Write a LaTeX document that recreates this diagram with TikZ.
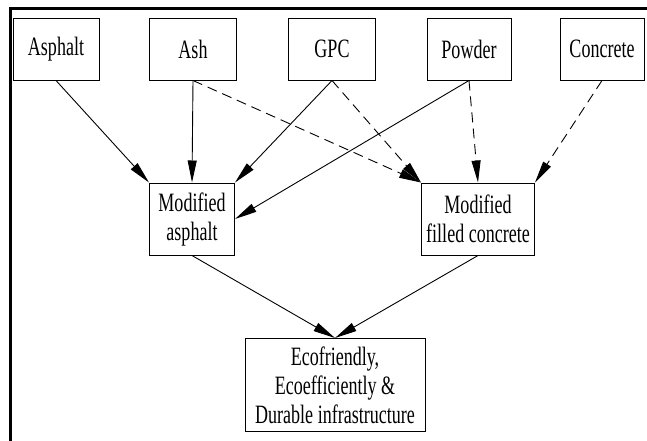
\documentclass[tikz,border=0pt]{standalone}
\usepackage{fontspec}
\setmainfont{Liberation Serif}[FakeStretch=0.68]
\usetikzlibrary{arrows.meta}

\tikzset{
    box/.style={draw, line width=1pt, align=center, inner sep=0pt,
        font=\fontsize{26.5}{29}\selectfont},
    flow/.style={line width=0.9pt, -{Triangle[length=22pt,width=9pt]}},
    dflow/.style={flow, dash pattern=on 10pt off 6pt},
}

\begin{document}
\begin{tikzpicture}[x=1pt,y=-1pt]
        \useasboundingbox (0,0) rectangle (647,440);

        % Рамка
        \draw[line width=3pt] (10,450) -- (10,8) -- (660,8);

        % Узлы
        \node[box, minimum width=86pt, minimum height=62pt] (asphalt)  at (56,49)  {Asphalt};
        \node[box, minimum width=87pt, minimum height=62pt] (ash)      at (193,49) {Ash};
        \node[box, minimum width=87pt, minimum height=62pt] (gpc)      at (332,49) {GPC};
        \node[box, minimum width=84pt, minimum height=62pt] (powder)   at (469,49) {Powder};
        \node[box, minimum width=84pt, minimum height=62pt] (concrete) at (602,49) {Concrete};

        \node[box, minimum width=85pt, minimum height=72pt]  (modasph) at (192,219) {Modified\\asphalt};
        \node[box, minimum width=113pt, minimum height=72pt] (modconc) at (478,219) {Modified\\filled concrete};

        \node[box, minimum width=180pt, minimum height=93pt] (infra) at (335,385) {Ecofriendly,\\Ecoefficiently \&\\Durable infrastructure};

        % Сплошные линии
        \draw[flow] (asphalt.south) -- (modasph.north west);
        \draw[flow] (ash.south)     -- (modasph.north);
        \draw[flow] (gpc.south)     -- (modasph.north east);
        \draw[flow] (powder.south)  -- (modasph.east);

        % Пунктирные линии
        \draw[dflow] (ash.south)      -- (modconc.north west);
        \draw[dflow] (gpc.south)      -- (modconc.north west);
        \draw[dflow] (powder.south)   -- (modconc.north);
        \draw[dflow] (concrete.south) -- (modconc.north east);

        % Итог
        \draw[flow] (modasph.south) -- (infra.north);
        \draw[flow] (modconc.south) -- (infra.north);
    \end{tikzpicture}
\end{document}
